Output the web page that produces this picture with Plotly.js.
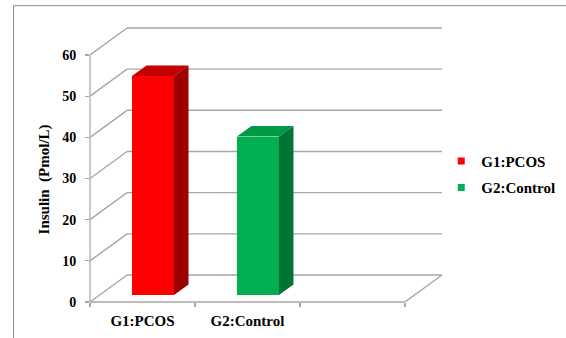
<!DOCTYPE html>
<html>
<head>
<meta charset="utf-8">
<script src="https://cdn.plot.ly/plotly-3.0.1.min.js"></script>
<style>html,body{margin:0;padding:0;background:#fff;}#chart{width:566px;height:338px;}</style>
</head>
<body>
<div id="chart"></div>
<script>
// ---- data ----
const categories = ['G1:PCOS', 'G2:Control'];
const insulin = [53.2, 38.5];
const yTicks = [0, 10, 20, 30, 40, 50, 60];
const slotCount = 3;               // Excel category slots (third is empty)
const frontColors = ['#FF0000', '#00B050'];
const topColors = ['#C40000', '#009944'];
const sideColors = ['#9C0000', '#007536'];

// ---- 3D look parameters (in axis units) ----
const WALL_DX = 0.353, WALL_DY = 6.56;   // depth of floor / walls
const BAR_OFF_X = 0.10, BAR_OFF_Y = 1.70; // bar front plane offset
const BAR_W = 0.40;
const BAR_DX = 0.1385, BAR_DY = 2.55;     // bar depth

const grid = '#A6A6A6';
const xMin = -0.5, xMax = slotCount - 0.5;
const backL = xMin + WALL_DX, backR = xMax + WALL_DX;

const shapes = [];
yTicks.forEach(v => {
  shapes.push({type:'line', xref:'x', yref:'y', x0:xMin, y0:v, x1:backL, y1:v + WALL_DY, layer:'below', line:{color:grid, width:1.4}});
  shapes.push({type:'line', xref:'x', yref:'y', x0:backL, y0:v + WALL_DY, x1:backR, y1:v + WALL_DY, layer:'below', line:{color:grid, width:1.4}});
});
// floor right edge and front edge
shapes.push({type:'line', xref:'x', yref:'y', x0:backR, y0:WALL_DY, x1:xMax, y1:0, layer:'below', line:{color:grid, width:1.4}});
shapes.push({type:'line', xref:'x', yref:'paper', x0:xMin, y0:0, x1:xMax, y1:0, layer:'below', line:{color:grid, width:1.4}});
// y axis line
shapes.push({type:'line', xref:'paper', yref:'y', x0:0, y0:0, x1:0, y1:yTicks[yTicks.length-1], layer:'below', line:{color:grid, width:1.2}});
// outer chart frame
shapes.push({type:'rect', xref:'paper', yref:'paper', x0:-0.2165, y0:-0.16, x1:1.40, y1:1.0775, layer:'below', line:{color:'#8C8C8C', width:1}});

const traces = [];
const xs = categories.map((c, i) => i + BAR_OFF_X);
traces.push({
  type:'bar', x: xs, y: insulin, base: insulin.map(() => BAR_OFF_Y), width: BAR_W,
  marker:{color: frontColors, line:{width:0}}, showlegend:false, hoverinfo:'skip'
});
categories.forEach((c, i) => {
  const x0 = xs[i] - BAR_W / 2, x1 = xs[i] + BAR_W / 2;
  const yb = BAR_OFF_Y, yt = BAR_OFF_Y + insulin[i];
  traces.push({type:'scatter', mode:'lines', fill:'toself', fillcolor: topColors[i], line:{width:0, color: topColors[i]},
    x:[x0, x1, x1 + BAR_DX, x0 + BAR_DX, x0], y:[yt, yt, yt + BAR_DY, yt + BAR_DY, yt], showlegend:false, hoverinfo:'skip'});
  traces.push({type:'scatter', mode:'lines', fill:'toself', fillcolor: sideColors[i], line:{width:0, color: sideColors[i]},
    x:[x1, x1, x1 + BAR_DX, x1 + BAR_DX, x1], y:[yb, yt, yt + BAR_DY, yb + BAR_DY, yb], showlegend:false, hoverinfo:'skip'});
});
categories.forEach((c, i) => {
  traces.push({type:'scatter', mode:'markers', x:[null], y:[null], name: c, legendgroup: 'g' + i,
    marker:{symbol:'square', size:7, color: frontColors[i]}, showlegend:true});
});
// invisible trace on x2 to carry slot boundary ticks
traces.push({type:'scatter', mode:'markers', x:[xMin], y:[0], xaxis:'x2', marker:{opacity:0}, showlegend:false, hoverinfo:'skip'});

const serif = '"Liberation Serif", "Times New Roman", serif';
const layout = {
  width:566, height:338,
  margin:{l:90, r:123, t:27, b:36, autoexpand:false},
  paper_bgcolor:'#fff', plot_bgcolor:'rgba(0,0,0,0)',
  showlegend:true,
  legend:{x:0.995, xanchor:'left', y:0.572, yanchor:'top', tracegroupgap:4, traceorder:'grouped',
    font:{family:serif, size:15, color:'#000', weight:'bold'}, bgcolor:'rgba(0,0,0,0)'},
  xaxis:{range:[xMin, backR + 0.01], tickvals: categories.map((c, i) => i), ticktext: categories,
    showgrid:false, zeroline:false, showline:false, ticks:'', ticklabelstandoff:8,
    tickfont:{family:serif, size:15, color:'#000', weight:'bold'}, fixedrange:true},
  xaxis2:{overlaying:'x', matches:'x', anchor:'y', side:'bottom', range:[xMin, backR + 0.01],
    tickvals: Array.from({length: slotCount + 1}, (_, k) => xMin + k), showticklabels:false,
    ticks:'outside', ticklen:4, tickcolor:grid, tickwidth:1.2, showgrid:false, zeroline:false, showline:false},
  yaxis:{range:[0, 66.8], tickvals: yTicks, ticks:'outside', ticklen:4, tickcolor:grid, tickwidth:1.2,
    showgrid:false, zeroline:false, showline:false, ticklabelstandoff:6,
    tickfont:{family:serif, size:14, color:'#000', weight:'bold'}, fixedrange:true},
  shapes: shapes,
  annotations:[{text:'Insulin\u00a0\u00a0(Pmol/L)', xref:'paper', yref:'paper', x:-0.128, y:0.445, textangle:-90,
    showarrow:false, font:{family:serif, size:15, color:'#000', weight:'bold'}, xanchor:'center', yanchor:'middle'}],
  bargap:0
};
Plotly.newPlot('chart', traces, layout, {staticPlot:true, displayModeBar:false});
</script>
</body>
</html>
